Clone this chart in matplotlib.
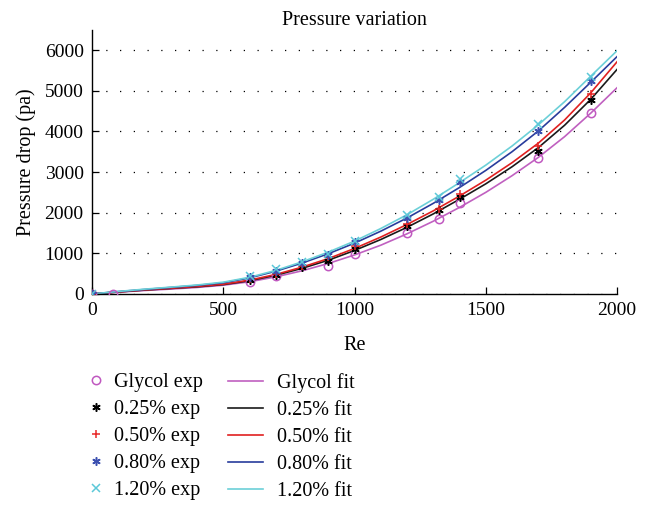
import numpy as np
import matplotlib
matplotlib.use("Agg")
import matplotlib.pyplot as plt
from matplotlib.lines import Line2D

plt.rcParams['font.family'] = ['Liberation Serif', 'DejaVu Serif']

# ── experimental points ──────────────────────────
re_glycol = [0, 80, 600, 700, 900, 1000, 1200, 1320, 1400, 1700, 1900]
dp_glycol = [0, 0, 303, 443, 689, 975, 1492, 1852, 2246, 3355, 4455]

re_exp = [0, 600, 700, 800, 900, 1000, 1200, 1320, 1400, 1700, 1900]
dp_025 = [0, 350, 467, 656, 820, 1115, 1672, 2057, 2390, 3505, 4766]
dp_050 = [0, 370, 492, 689, 918, 1189, 1721, 2098, 2467, 3630, 4920]
dp_080 = [0, 410, 574, 770, 951, 1279, 1861, 2303, 2754, 4020, 5230]
dp_120 = [0, 430, 607, 779, 990, 1311, 1943, 2385, 2830, 4175, 5344]

# ── fitted curves ────────────────────────────────
re_fit = [0, 100, 200, 300, 400, 500, 600, 700, 800, 900, 1000,
          1100, 1200, 1300, 1400, 1500, 1600, 1700, 1800, 1900, 2000]
fit_glycol = [0, 45, 85, 120, 160, 215, 300, 420, 570, 750, 960,
              1200, 1480, 1790, 2130, 2500, 2910, 3360, 3870, 4450, 5074]
fit_025 = [0, 50, 95, 135, 175, 230, 325, 460, 630, 830, 1070,
           1340, 1640, 1970, 2330, 2710, 3130, 3600, 4150, 4790, 5525]
fit_050 = [0, 50, 100, 140, 185, 240, 340, 480, 660, 870, 1120,
           1400, 1710, 2045, 2410, 2800, 3230, 3710, 4280, 4950, 5713]
fit_080 = [0, 58, 110, 160, 210, 275, 395, 560, 760, 990, 1250,
           1545, 1870, 2230, 2620, 3040, 3500, 4010, 4590, 5210, 5840]
fit_120 = [0, 62, 118, 168, 220, 290, 410, 580, 790, 1030, 1300,
           1610, 1950, 2330, 2740, 3170, 3640, 4160, 4730, 5360, 5985]

labels = ["Glycol", "0.25%", "0.50%", "0.80%", "1.20%"]
exp_colors = ["#c058c0", "#000000", "#e82828", "#3c50b0", "#5cc8d8"]
fit_colors = ["#c060c0", "#1a1a1a", "#e02020", "#283c9c", "#6cd0d8"]
markers = ["o", (6, 2, 0), "+", (6, 2, 0), "x"]

exp_x = [re_glycol, re_exp, re_exp, re_exp, re_exp]
exp_y = [dp_glycol, dp_025, dp_050, dp_080, dp_120]
fit_y = [fit_glycol, fit_025, fit_050, fit_080, fit_120]

FS = 14.5

fig = plt.figure(figsize=(6.53, 5.13), dpi=100)
ax = fig.add_axes([0.141, 0.427, 0.804, 0.515])

for fy, c in zip(fit_y, fit_colors):
    ax.plot(re_fit, fy, color=c, lw=1.2, zorder=2)
for xs, ys, c, m in zip(exp_x, exp_y, exp_colors, markers):
    face = "none" if m == "o" else c
    ax.plot(xs, ys, linestyle="none", marker=m, ms=6, mec=c, mfc=face,
            mew=1.1, zorder=3)

ax.set_xlim(0, 2000)
ax.set_ylim(0, 6500)
ax.set_xticks([0, 500, 1000, 1500, 2000])
ax.set_yticks([0, 1000, 2000, 3000, 4000, 5000, 6000])
ax.tick_params(direction="in", length=5, width=0.9, labelsize=14, pad=6)
ax.yaxis.grid(True, linestyle=(0, (1, 10)), color="black", lw=0.9)
ax.set_axisbelow(True)
for s in ["top", "right"]:
    ax.spines[s].set_visible(False)
for s in ["left", "bottom"]:
    ax.spines[s].set_linewidth(1.0)

ax.set_title("Pressure variation", fontsize=FS, pad=3)
ax.set_xlabel("Re", fontsize=FS, labelpad=12)
ax.set_ylabel("Pressure drop (pa)", fontsize=FS, labelpad=6)

# legends below the plot: markers column and fitted-line column
h_exp = [Line2D([], [], linestyle="none", marker=m, ms=6, mec=c,
                mfc=("none" if m == "o" else c), mew=1.1)
         for m, c in zip(markers, exp_colors)]
h_fit = [Line2D([], [], color=c, lw=1.2) for c in fit_colors]

leg1 = fig.legend(h_exp, [l + " exp" for l in labels], loc="upper left",
                  bbox_to_anchor=(0.1165, 0.292), frameon=False, fontsize=FS,
                  handlelength=1.0, handletextpad=0.4, labelspacing=0.39,
                  borderpad=0)
leg2 = fig.legend(h_fit, [l + " fit" for l in labels], loc="upper left",
                  bbox_to_anchor=(0.334, 0.292), frameon=False, fontsize=FS,
                  handlelength=1.75, handletextpad=0.65, labelspacing=0.39,
                  borderpad=0)

fig.savefig("out.png", dpi=100)
